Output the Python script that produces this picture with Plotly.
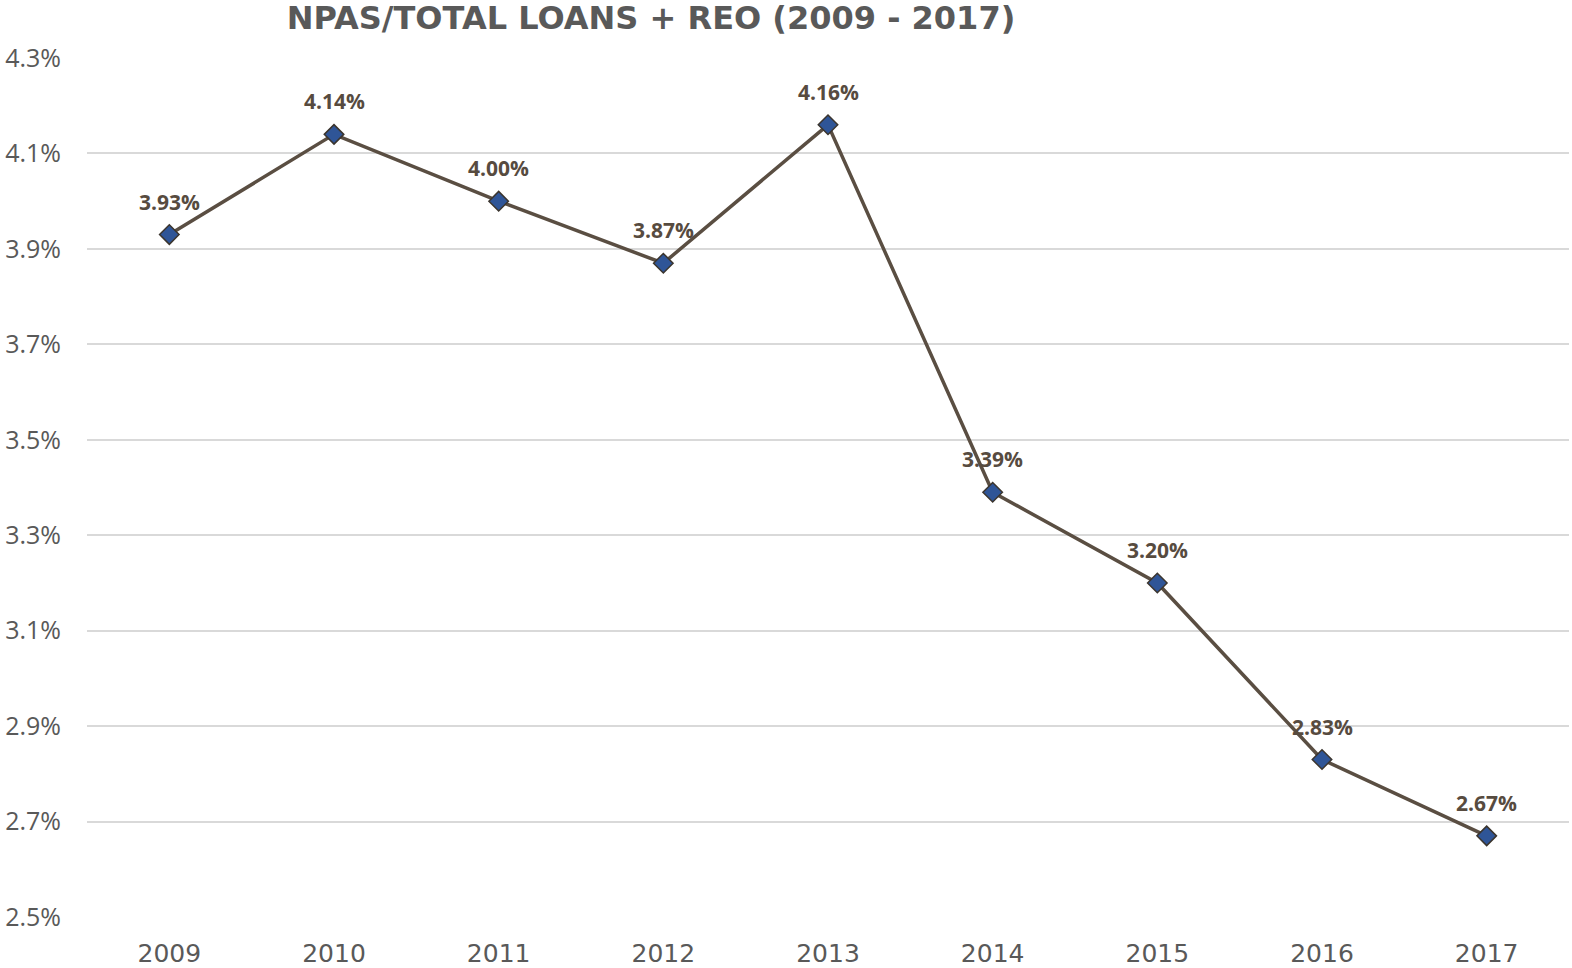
import plotly.graph_objects as go

# Non-performing assets as a share of total loans + REO, by year
years = ["2009", "2010", "2011", "2012", "2013", "2014", "2015", "2016", "2017"]
npa_ratio = [3.93, 4.14, 4.00, 3.87, 4.16, 3.39, 3.20, 2.83, 2.67]
y_ticks = [2.5, 2.7, 2.9, 3.1, 3.3, 3.5, 3.7, 3.9, 4.1, 4.3]

LINE_COLOR = "#5A4E42"
LABEL_COLOR = "#574B3F"
TICK_COLOR = "#595959"
GRID_COLOR = "#D9D9D9"

fig = go.Figure()
fig.add_trace(go.Scatter(
    x=years,
    y=npa_ratio,
    mode="lines+markers",
    line=dict(color=LINE_COLOR, width=3.5),
    marker=dict(symbol="diamond", size=15, color="#2F5597",
                line=dict(color="#3B352E", width=1.5)),
    hoverinfo="skip",
    showlegend=False,
))

# value labels above each point (category axis -> positional index)
for i, v in enumerate(npa_ratio):
    fig.add_annotation(
        x=i, y=v, xref="x", yref="y",
        text=f"<b>{v:.2f}%</b>", showarrow=False, yshift=33,
        font=dict(family="Open Sans", size=21, color=LABEL_COLOR),
    )

fig.update_layout(
    width=1572, height=968,
    margin=dict(l=87, r=3, t=58, b=51),
    paper_bgcolor="white", plot_bgcolor="white",
    title=dict(
        text="<b>NPAS/TOTAL LOANS + REO (2009 - 2017)</b>",
        x=651 / 1572, xanchor="center", y=1 - 18 / 968, yanchor="middle",
        font=dict(family="DejaVu Sans", size=32, color=TICK_COLOR),
    ),
    xaxis=dict(
        type="category", range=[-0.5, 8.5], automargin=False,
        showgrid=False, zeroline=False, showline=False, ticks="",
        tickfont=dict(family="DejaVu Sans", size=25, color=TICK_COLOR),
        ticklabelstandoff=19,
    ),
    yaxis=dict(
        range=[2.5, 4.3], tickvals=y_ticks, automargin=False,
        ticktext=[f"{t:.1f}%" for t in y_ticks],
        showgrid=True, gridcolor=GRID_COLOR, gridwidth=1.5,
        zeroline=False, showline=False, ticks="",
        tickfont=dict(family="Open Sans", size=25, color=TICK_COLOR),
        ticklabelstandoff=25,
    ),
)

fig.write_html("out.html")
